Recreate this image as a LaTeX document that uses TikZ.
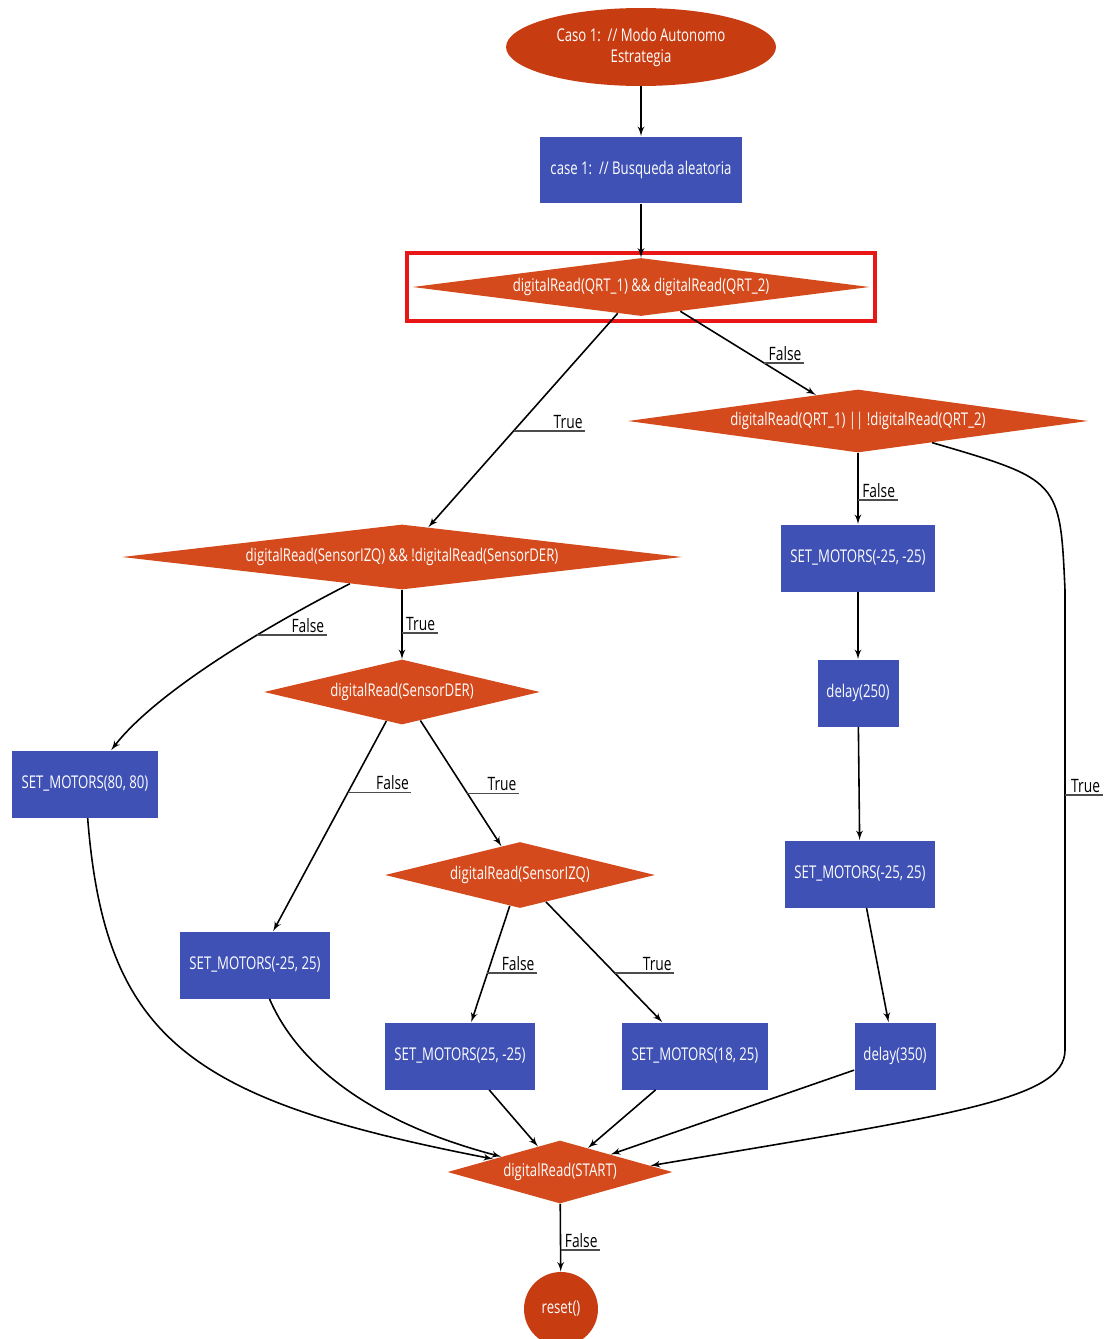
\documentclass[tikz,border=0pt]{standalone}
\usepackage{fontspec}
\setmainfont{Open Sans}[FakeStretch=0.75]
\usepackage{xcolor}
\usepackage{tikz}
\usetikzlibrary{shapes.geometric, arrows, positioning, calc, fit}

\definecolor{termred}{RGB}{200,60,18}
\definecolor{decred}{RGB}{212,74,28}
\definecolor{boxblue}{RGB}{63,81,181}
\definecolor{hlred}{RGB}{232,22,22}

\newcommand{\nodefont}{\fontsize{10}{12}\selectfont}
\newcommand{\lblfont}{\fontsize{10.5}{12}\selectfont}

\begin{document}
\begin{tikzpicture}[x=0.02cm, y=-0.02cm,
    term/.style={ellipse, fill=termred, text=white, align=center, inner sep=0pt, font=\nodefont},
    block/.style={rectangle, fill=boxblue, text=white, minimum width=3cm, minimum height=1.34cm, inner sep=2pt, font=\nodefont},
    dec/.style={diamond, fill=decred, text=white, aspect=8, inner sep=0pt, font=\nodefont},
    hlbox/.style={rectangle, draw=hlred, line width=2.2pt, inner sep=0.1cm},
    lbl/.style={anchor=south west, inner sep=1pt, text width=#1, align=right, font=\lblfont},
    uline/.style={draw=black!70, line width=1pt},
    arr/.style={draw=black, line width=0.9pt, -latex'}
]
    \path [fill=white] (0,0) rectangle (1107,1339);
    \useasboundingbox (0,0) rectangle (1107,1339);

    \node [term, minimum width=5.4cm, minimum height=1.56cm] (start) at (641,47) {Caso 1:\ \ // Modo Autonomo\\Estrategia};
    \node [block, minimum width=4.06cm] (busq) at (641,170) {case 1:\ \ // Busqueda aleatoria};
    \node [dec, minimum width=9.14cm, minimum height=1.16cm] (qrt) at (641,287) {digitalRead(QRT\_1) \&\& digitalRead(QRT\_2)};
    \node [hlbox, fit=(qrt)] (hl) {};

    \node [dec, minimum width=9.2cm, minimum height=1.26cm] (qrtor) at (858,421) {digitalRead(QRT\_1) || !digitalRead(QRT\_2)};
    \node [block, minimum width=3.1cm] (mback) at (858,558) {SET\_MOTORS(-25, -25)};
    \node [block, minimum width=1.62cm] (d250) at (858,693) {delay(250)};
    \node [block] (mturn) at (860,874) {SET\_MOTORS(-25, 25)};
    \node [block, minimum width=1.62cm] (d350) at (895,1056) {delay(350)};

    \node [dec, minimum width=11.2cm, minimum height=1.3cm] (izqder) at (402,557) {digitalRead(SensorIZQ) \&\& !digitalRead(SensorDER)};
    \node [block, minimum width=2.92cm] (m8080) at (85,784) {SET\_MOTORS(80, 80)};
    \node [dec, aspect=5, minimum width=5.52cm, minimum height=1.3cm] (der) at (402,692) {digitalRead(SensorDER)};
    \node [block] (mleft) at (255,965) {SET\_MOTORS(-25, 25)};
    \node [dec, aspect=5, minimum width=5.4cm, minimum height=1.32cm] (izq) at (520,875) {digitalRead(SensorIZQ)};
    \node [block] (m25) at (460,1056) {SET\_MOTORS(25, -25)};
    \node [block, minimum width=2.92cm] (m1825) at (695,1056) {SET\_MOTORS(18, 25)};

    \node [dec, aspect=5, minimum width=4.5cm, minimum height=1.26cm] (start-d) at (560,1172) {digitalRead(START)};
    \node [term, circle, minimum size=1.48cm] (reset) at (561,1309) {reset()};

    % Flujo principal
    \path [arr] (start) -- (busq);
    \path [arr] (busq) -- (qrt);
    \path [arr] (qrt) -- node[lbl=1.33cm, pos=0.55] (t-qrt) {True} (izqder);
    \path [arr] (qrt) -- node[lbl=0.69cm, pos=0.62] (f-qrt) {False} (qrtor);

    % Rama derecha
    \path [arr] (qrtor) -- node[lbl=0.69cm, pos=0.66] (f-qrtor) {False} (mback);
    \path [arr] (mback) -- (d250);
    \path [arr] (d250) -- (mturn);
    \path [arr] (mturn) -- (d350);
    \path [arr] (qrtor) .. controls (1060,480) .. (1065,590) -- node[lbl=0.65cm, pos=0.446] (t-qrtor) {True} (1065,1050) .. controls (1065,1100) and (950,1115) .. (start-d.4);

    % Rama izquierda
    \path [arr] (izqder) .. controls (240,640) and (150,700) .. (m8080) node[lbl=1.29cm, pos=0.3] (f-izqder) {False};
    \path [arr] (izqder) -- node[lbl=0.61cm, pos=0.62] (t-izqder) {True} (der);
    \path [arr] (der) -- node[lbl=1.17cm, pos=0.34] (f-der) {False} (mleft);
    \path [arr] (der) -- node[lbl=0.93cm, pos=0.58] (t-der) {True} (izq);
    \path [arr] (izq) -- node[lbl=0.89cm, pos=0.58] (f-izq) {False} (m25);
    \path [arr] (izq) -- node[lbl=1.09cm, pos=0.59] (t-izq) {True} (m1825);

    % Hacia digitalRead(START)
    \path [arr] (m8080) .. controls (105,1040) and (190,1100) .. (start-d);
    \path [arr] (mleft) .. controls (300,1070) and (380,1125) .. (start-d);
    \path [arr] (m25) -- (start-d);
    \path [arr] (m1825) -- (start-d);
    \path [arr] (d350) -- (start-d);
    \path [arr] (start-d) -- node[lbl=0.69cm, pos=0.68] (f-start) {False} (reset);

    \foreach \lab in {t-qrt, f-qrt, f-qrtor, t-qrtor, f-izqder, t-izqder, f-der, t-der, f-izq, t-izq, f-start}
        \draw [uline] (\lab.south west) -- (\lab.south east);
\end{tikzpicture}
\end{document}
